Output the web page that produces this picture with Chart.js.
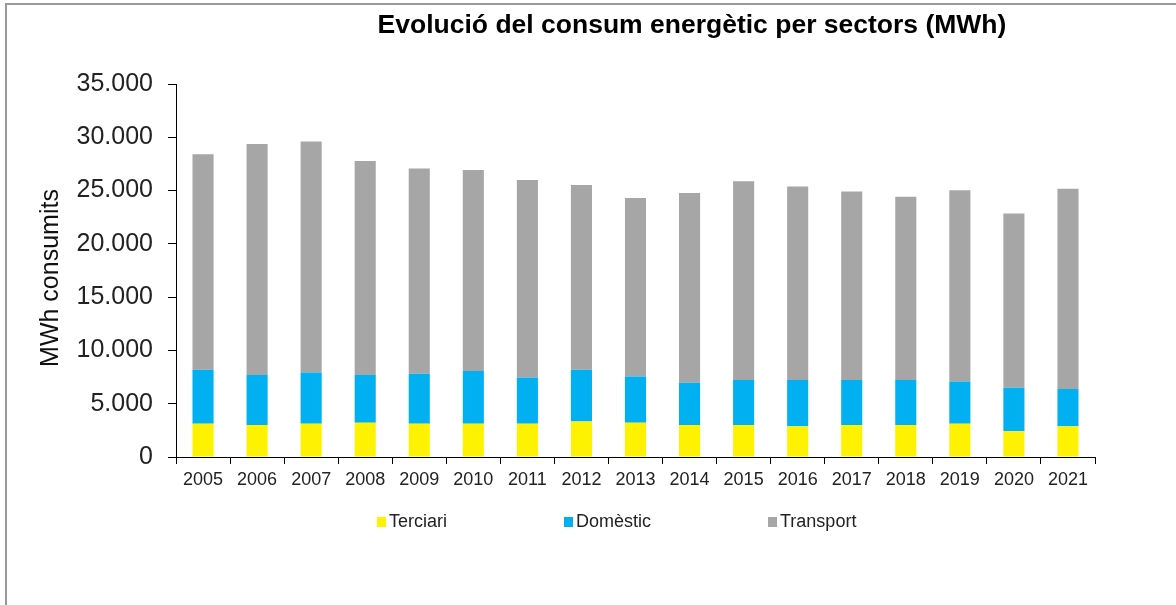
<!DOCTYPE html>
<html>
<head>
<meta charset="utf-8">
<script src="https://cdn.jsdelivr.net/npm/chart.js@4"></script>
<style>
  html, body { margin: 0; padding: 0; background: #fff; overflow: hidden; }
  #frame { position: absolute; left: 5px; top: 3px; width: 1300px; height: 800px;
           border-left: 2px solid #9a9a9a; border-top: 2px solid #9a9a9a; }
  #wrap { position: absolute; left: 0; top: 0; width: 1176px; height: 605px; }
</style>
</head>
<body>
<div id="frame"></div>
<div id="wrap"><canvas id="c" width="1176" height="605"></canvas></div>
<script>
const years = ['2005','2006','2007','2008','2009','2010','2011','2012','2013','2014','2015','2016','2017','2018','2019','2020','2021'];
const terciari  = [3130,3000,3130,3220,3130,3130,3130,3340,3220,3000,3000,2880,3000,3000,3130,2410,2880];
const domestic  = [5060,4690,4810,4470,4680,4930,4340,4850,4340,3970,4220,4340,4220,4220,3960,4090,3500];
const transport = [20220,21690,21660,20090,19250,18880,18530,17340,16750,17810,18660,18160,17690,17190,17940,16340,18780];
const seriesNames = ['Terciari','Domèstic','Transport'];
const seriesColors = ['#FFF200','#00B0F0','#A6A6A6'];
const titleText = 'Evolució del consum energètic per sectors (MWh)';
const yAxisTitle = 'MWh consumits';

const FONT = '"Liberation Sans", Arial, sans-serif';

function fmt(v) { return String(v).replace(/\B(?=(\d{3})+(?!\d))/g, '.'); }

const decorations = {
  id: 'decorations',
  afterDraw(chart) {
    const ctx = chart.ctx;
    ctx.save();
    // Title
    ctx.fillStyle = '#000';
    ctx.font = 'bold 26.5px ' + FONT;
    ctx.textAlign = 'center';
    ctx.textBaseline = 'middle';
    ctx.fillText(titleText, 692, 26);
    // Y axis title
    ctx.save();
    ctx.translate(51, 278);
    ctx.rotate(-Math.PI / 2);
    ctx.font = '25px ' + FONT;
    ctx.fillStyle = '#111';
    ctx.textAlign = 'center';
    ctx.textBaseline = 'middle';
    ctx.fillText(yAxisTitle, 0, 0);
    ctx.restore();
    // Legend
    ctx.font = '18px ' + FONT;
    ctx.textAlign = 'left';
    ctx.textBaseline = 'middle';
    let x = 377;
    const y = 522;
    chart.data.datasets.forEach(ds => {
      ctx.fillStyle = ds.backgroundColor;
      ctx.fillRect(x, y - 5, 9, 10);
      ctx.fillStyle = '#222';
      ctx.fillText(ds.label, x + 12, y);
      x += 12 + ctx.measureText(ds.label).width + 117;
    });
    ctx.restore();
  }
};

new Chart(document.getElementById('c'), {
  type: 'bar',
  data: {
    labels: years,
    datasets: [
      { label: seriesNames[0], data: terciari,  backgroundColor: seriesColors[0] },
      { label: seriesNames[1], data: domestic,  backgroundColor: seriesColors[1] },
      { label: seriesNames[2], data: transport, backgroundColor: seriesColors[2] }
    ]
  },
  options: {
    responsive: false,
    animation: false,
    devicePixelRatio: 1,
    layout: { padding: { left: 0, top: 84, right: 81, bottom: 108 } },
    datasets: { bar: { categoryPercentage: 1.0, barPercentage: 0.39 } },
    plugins: {
      legend: { display: false },
      title: { display: false },
      tooltip: { enabled: false }
    },
    scales: {
      x: {
        stacked: true,
        afterFit: s => { s.height = 40; },
        grid: { display: true, drawOnChartArea: false, drawTicks: true, tickLength: 7, color: '#000', offset: true },
        border: { display: true, color: '#000', width: 1 },
        ticks: { color: '#222', font: { family: FONT, size: 18 }, padding: 5, maxRotation: 0, autoSkip: false }
      },
      y: {
        stacked: true,
        min: 0, max: 35000,
        afterFit: s => { s.width = 176; },
        grid: { display: true, drawOnChartArea: false, drawTicks: true, tickLength: 8, color: '#000' },
        border: { display: true, color: '#000', width: 1 },
        ticks: { stepSize: 5000, color: '#222', font: { family: FONT, size: 25 }, padding: 15,
                 callback: v => fmt(v) }
      }
    }
  },
  plugins: [decorations]
});
</script>
</body>
</html>
